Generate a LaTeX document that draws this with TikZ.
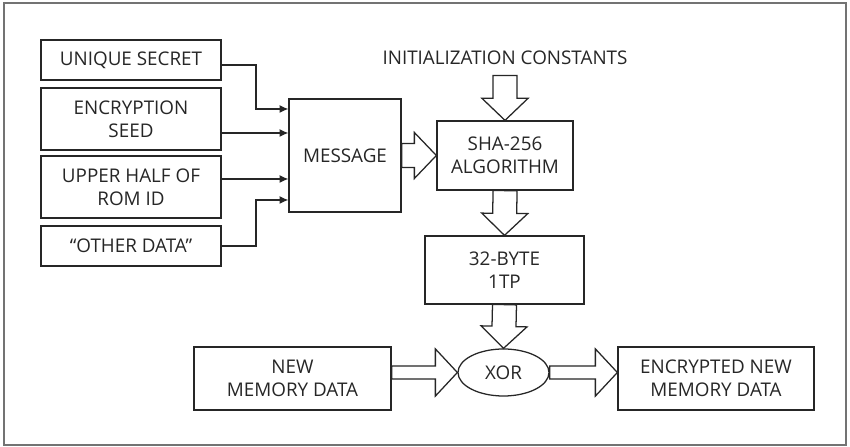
\documentclass[tikz,border=0pt]{standalone}
\usepackage{fontspec}
\setmainfont{Open Sans}
\usetikzlibrary{arrows.meta,calc,shapes.geometric}
\tikzset{
    block/.style={draw=black!85, line width=0.9pt, align=center, text=black!85, font=\fontsize{13.4}{16.3}\selectfont, inner sep=2pt},
    wire/.style={draw=black!85, line width=0.8pt, ->},
    hollow/.style={draw=black!85, line width=0.9pt, fill=white, line join=miter}
}
\newcommand{\hollowarrow}[4]{%
  \coordinate (ha-s) at (#1);
  \coordinate (ha-t) at (#2);
  \coordinate (ha-h) at ($(ha-t)!0.55cm!(ha-s)$);
  \draw[hollow] ($(ha-s)!#3!90:(ha-t)$) -- ($(ha-h)!#3!90:(ha-t)$)
    -- ($(ha-h)!#4!90:(ha-t)$) -- (ha-t)
    -- ($(ha-h)!#4!-90:(ha-t)$) -- ($(ha-h)!#3!-90:(ha-t)$)
    -- ($(ha-s)!#3!-90:(ha-t)$) -- cycle;
}

\begin{document}
\begin{tikzpicture}[>={Latex[length=2.2mm,width=2mm]}]
\useasboundingbox (0,0) rectangle (21.25,11.175);
\draw[black!55, line width=1.2pt] (0.1,0.05) rectangle (21.15,11.1);

\node[block, minimum width=4.5cm, minimum height=1cm] (secret) at (3.275,9.675) {UNIQUE SECRET};
\node[block, minimum width=4.5cm, minimum height=1.55cm] (seed) at (3.275,8.2) {ENCRYPTION\\SEED};
\node[block, minimum width=4.5cm, minimum height=1.55cm] (romid) at (3.275,6.5) {UPPER HALF OF\\ROM ID};
\node[block, minimum width=4.5cm, minimum height=1cm] (other) at (3.275,5.025) {``OTHER DATA''};
\node[block, minimum width=2.8cm, minimum height=2.825cm] (message) at (8.625,7.2875) {MESSAGE};
\node[block, draw=none, inner sep=2.5mm] (init) at (12.625,9.725) {INITIALIZATION CONSTANTS};
\node[block, minimum width=3.4cm, minimum height=1.725cm] (sha) at (12.625,7.2875) {SHA-256\\ALGORITHM};
\node[block, minimum width=3.975cm, minimum height=1.7cm] (otp) at (12.6125,4.425) {32-BYTE\\1TP};
\node[block, ellipse, minimum width=2.275cm, minimum height=1.175cm, inner sep=0pt] (xor) at (12.5875,1.8625) {XOR};
\node[block, minimum width=4.925cm, minimum height=1.575cm] (newdata) at (7.3125,1.7125) {NEW\\MEMORY DATA};
\node[block, minimum width=4.9cm, minimum height=1.575cm] (encdata) at (17.9,1.7125) {ENCRYPTED NEW\\MEMORY DATA};

\coordinate (m1) at ([yshift=1.1625cm]message.west);
\coordinate (m2) at ([yshift=0.5625cm]message.west);
\coordinate (m3) at ([yshift=-0.5875cm]message.west);
\coordinate (m4) at ([yshift=-1.1125cm]message.west);
\coordinate (bend) at (6.4,0);

\draw[wire] ([yshift=-1.25mm]secret.east) -| (bend |- m1) -- (m1);
\draw[wire] (m2 -| seed.east) -- (m2);
\draw[wire] (m3 -| romid.east) -- (m3);
\draw[wire] (other.east) -| (bend |- m4) -- (m4);

\hollowarrow{init.south}{sha.north}{3mm}{5.75mm}
\hollowarrow{message.east}{sha.west}{3mm}{5.75mm}
\hollowarrow{sha.south}{otp.north}{3mm}{5.75mm}
\hollowarrow{otp.south}{xor.north}{3mm}{5.75mm}
\hollowarrow{xor.west -| newdata.east}{xor.west}{1.65mm}{5.9mm}
\hollowarrow{xor.east}{xor.east -| encdata.west}{1.65mm}{5.9mm}
\end{tikzpicture}
\end{document}
